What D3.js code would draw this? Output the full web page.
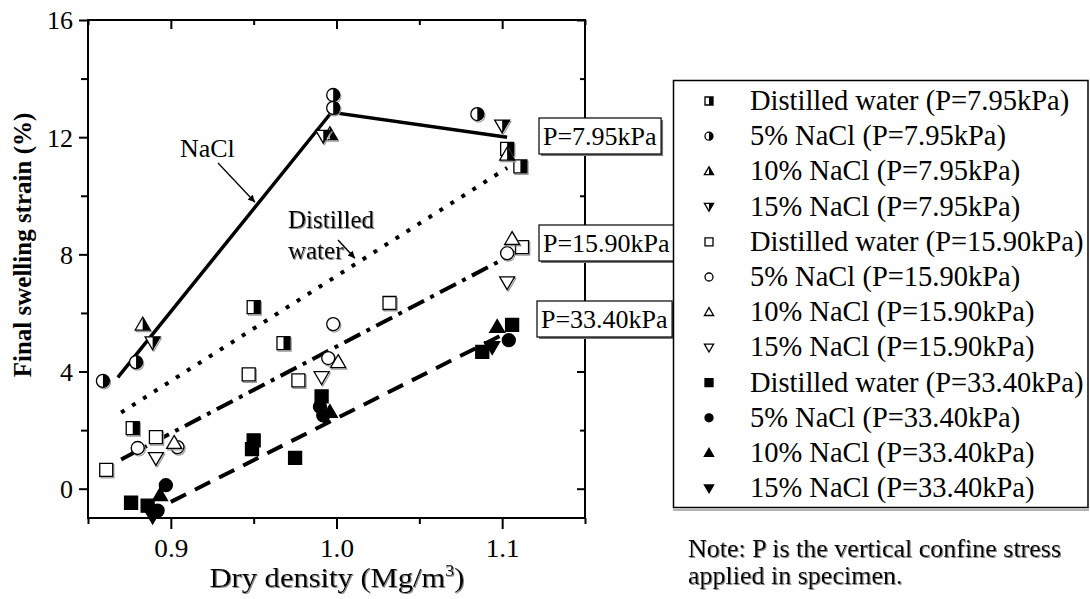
<!DOCTYPE html>
<html><head><meta charset="utf-8">
<script src="https://cdn.jsdelivr.net/npm/d3@7"></script>
<style>
body{margin:0;background:#fff;}
svg{display:block;}
svg text{font-family:"Liberation Serif","Times New Roman",Times,"DejaVu Serif","Noto Serif",serif;fill:#000;}
</style></head>
<body><svg id="c" width="1090" height="599" font-family="Liberation Serif, Times New Roman, DejaVu Serif, serif"></svg>
<script>
// ---------- data ----------
const xMajor = [0.9, 1.0, 1.1];
const xMinor = [0.85, 0.95, 1.05, 1.15];
const yMajor = [0, 4, 8, 12, 16];
const yMinor = [2, 6, 10, 14];

// P = 7.95 kPa (half filled)
const dw795  = [[0.877,2.07],[0.95,6.2],[0.968,4.97],[1.103,11.6],[1.111,11.0]];
const n5_795 = [[0.859,3.68],[0.879,4.32],[0.998,13.44],[0.998,13.0],[1.085,12.79]];
const n10_795= [[0.883,5.6],[0.996,12.1],[1.103,11.4]];
const n15_795= [[0.889,5.0],[0.992,12.05],[1.100,12.4]];
// P = 15.90 kPa (open)
const dw1590  = [[0.861,0.64],[0.891,1.76],[0.947,3.9],[0.977,3.7],[1.032,6.34],[1.112,8.25]];
const n5_1590 = [[0.880,1.39],[0.904,1.42],[0.998,5.62],[0.995,4.46],[1.103,8.04]];
const n10_1590= [[0.902,1.56],[1.001,4.32],[1.106,8.52]];
const n15_1590= [[0.891,1.05],[0.991,3.81],[1.103,7.05]];
// P = 33.40 kPa (filled)
const dw3340  = [[0.876,-0.48],[0.886,-0.58],[0.950,1.65],[0.949,1.35],[0.975,1.05],[0.991,3.15],[1.088,4.67],[1.106,5.59]];
const n5_3340 = [[0.897,0.12],[0.892,-0.75],[0.990,2.8],[0.992,2.5],[1.104,5.07]];
const n10_3340= [[0.8935,-0.22],[0.996,2.62],[1.097,5.52]];
const n15_3340= [[0.889,-0.95],[0.993,2.45],[1.094,4.84]];

// fitted trend lines
const fitNaCl795 = [[0.868,3.8],[0.997,12.85],[1.103,12.0]];
const fitDW795   = [[0.870,2.6],[1.103,10.95]];
const fit1590    = [[0.870,1.0],[1.113,8.2]];
const fit3340    = [[0.900,-0.45],[1.100,5.25]];

const legendLabels = [
 "Distilled water (P=7.95kPa)","5% NaCl (P=7.95kPa)","10% NaCl (P=7.95kPa)","15% NaCl (P=7.95kPa)",
 "Distilled water (P=15.90kPa)","5% NaCl (P=15.90kPa)","10% NaCl (P=15.90kPa)","15% NaCl (P=15.90kPa)",
 "Distilled water (P=33.40kPa)","5% NaCl (P=33.40kPa)","10% NaCl (P=33.40kPa)","15% NaCl (P=33.40kPa)"];
const pLabels = ["P=7.95kPa","P=15.90kPa","P=33.40kPa"];

// ---------- layout ----------
const FONT = "'Liberation Serif','Times New Roman',Times,'DejaVu Serif',serif";
const svg = d3.select("#c");
const L=88, R=585, T=20, B=518;
const x = d3.scaleLinear().domain([0.85,1.15]).range([L,R]);
const y = d3.scaleLinear().domain([-1,16]).range([B,T]);

const defs = svg.append("defs");
const flt = defs.append("filter").attr("id","shd").attr("x","-5%").attr("y","-20%").attr("width","110%").attr("height","140%");
flt.append("feOffset").attr("in","SourceAlpha").attr("dx",1).attr("dy",1).attr("result","o");
flt.append("feColorMatrix").attr("in","o").attr("type","matrix")
  .attr("values","0 0 0 0 0.25  0 0 0 0 0.25  0 0 0 0 0.25  0 0 0 1 0").attr("result","c");
const fm = flt.append("feMerge"); fm.append("feMergeNode").attr("in","c"); fm.append("feMergeNode").attr("in","SourceGraphic");

function T_(sel, size){ return sel.style("font-family",FONT).style("font-size",size+"px"); }

// ---------- marker shapes ----------
function shapePath(kind, r){
  const t = r*1.15;
  switch(kind){
    case "sq": return `M${-r},${-r}h${2*r}v${2*r}h${-2*r}Z`;
    case "sqH": return `M0,${-r}h${r}v${2*r}h${-r}Z`;
    case "ci": return `M${-r},0A${r},${r} 0 1 1 ${r},0A${r},${r} 0 1 1 ${-r},0Z`;
    case "ciH": return `M0,${-r}A${r},${r} 0 0 1 0,${r}Z`;
    case "tu": return `M0,${-t}L${t},${t*0.72}L${-t},${t*0.72}Z`;
    case "tuH": return `M0,${-t}L${t},${t*0.72}L0,${t*0.72}Z`;
    case "td": return `M0,${t}L${t},${-t*0.72}L${-t},${-t*0.72}Z`;
    case "tdH": return `M0,${t}L${t},${-t*0.72}L0,${-t*0.72}Z`;
  }
}
const series = [
  {d:dw795, s:"sq", st:"half"},{d:n5_795, s:"ci", st:"half"},{d:n10_795, s:"tu", st:"half"},{d:n15_795, s:"td", st:"half"},
  {d:dw1590, s:"sq", st:"open"},{d:n5_1590, s:"ci", st:"open"},{d:n10_1590, s:"tu", st:"open"},{d:n15_1590, s:"td", st:"open"},
  {d:dw3340, s:"sq", st:"full"},{d:n5_3340, s:"ci", st:"full"},{d:n10_3340, s:"tu", st:"full"},{d:n15_3340, s:"td", st:"full"}
];
function drawMarker(g, kind, st, r, shadow){
  if(shadow){
    g.append("path").attr("d",shapePath(kind,r)).attr("transform","translate(1.2,1.5)")
      .attr("fill","none").attr("stroke","#999").attr("stroke-width",1.2);
  }
  g.append("path").attr("d",shapePath(kind,r))
    .attr("fill", st==="full" ? "#000" : "#fff")
    .attr("stroke","#000").attr("stroke-width",1.3);
  if(st==="half"){
    g.append("path").attr("d",shapePath(kind+"H",r)).attr("fill","#000");
  }
}

// ---------- axes ----------
const axW = 2;
function styleAxis(g){
  g.attr("font-family",null).attr("font-size",null);
  g.select(".domain").remove();
  g.selectAll("line").attr("stroke","#000").attr("stroke-width",axW);
  T_(g.selectAll("text"),26);
}
svg.append("g").attr("transform",`translate(0,${B})`)
  .call(d3.axisBottom(x).tickValues(xMajor).tickSize(11).tickFormat(d3.format(".1f")))
  .call(styleAxis).call(g=>g.selectAll("text").attr("y",39).attr("dy",null).attr("textLength",34).attr("lengthAdjust","spacingAndGlyphs"));
svg.append("g").attr("transform",`translate(0,${B})`)
  .call(d3.axisBottom(x).tickValues(xMinor).tickSize(6).tickFormat("")).call(styleAxis);
svg.append("g").attr("transform",`translate(0,${T})`)
  .call(d3.axisBottom(x).tickValues(xMajor).tickSize(9).tickFormat("")).call(styleAxis);
svg.append("g").attr("transform",`translate(0,${T})`)
  .call(d3.axisBottom(x).tickValues(xMinor).tickSize(5).tickFormat("")).call(styleAxis);
svg.append("g").attr("transform",`translate(${L},0)`)
  .call(d3.axisLeft(y).tickValues(yMajor).tickSize(9).tickPadding(6).tickFormat(d3.format("d")))
  .call(styleAxis).call(g=>g.selectAll("text").attr("dy","0.34em"));
svg.append("g").attr("transform",`translate(${L},0)`)
  .call(d3.axisLeft(y).tickValues(yMinor).tickSize(7).tickFormat("")).call(styleAxis);
svg.append("g").attr("transform",`translate(${R},0)`)
  .call(d3.axisLeft(y).tickValues(yMajor).tickSize(8).tickFormat("")).call(styleAxis);
svg.append("g").attr("transform",`translate(${R},0)`)
  .call(d3.axisLeft(y).tickValues(yMinor).tickSize(5).tickFormat("")).call(styleAxis);
svg.append("rect").attr("x",L).attr("y",T).attr("width",R-L).attr("height",B-T)
  .attr("fill","none").attr("stroke","#000").attr("stroke-width",axW);

// ---------- fit lines ----------
const line = d3.line().x(d=>x(d[0])).y(d=>y(d[1]));
const plot = svg.append("g");
plot.append("path").datum(fitNaCl795).attr("d",line).attr("fill","none").attr("stroke","#000").attr("stroke-width",3.5);
plot.append("path").datum(fitDW795).attr("d",line).attr("fill","none").attr("stroke","#000").attr("stroke-width",4).attr("stroke-dasharray","4 9");
plot.append("path").datum(fit1590).attr("d",line).attr("fill","none").attr("stroke","#000").attr("stroke-width",4).attr("stroke-dasharray","18 7 4 7");
plot.append("path").datum(fit3340).attr("d",line).attr("fill","none").attr("stroke","#000").attr("stroke-width",4).attr("stroke-dasharray","17 10");

// ---------- markers ----------
series.forEach(se=>{
  se.d.forEach(p=>{
    const g = plot.append("g").attr("transform",`translate(${x(p[0])},${y(p[1])})`);
    drawMarker(g, se.s, se.st, 6.5, se.st!=="full");
  });
});

// ---------- annotations ----------
defs.append("marker").attr("id","ah").attr("viewBox","0 0 10 10")
  .attr("refX",10).attr("refY",5).attr("markerWidth",9).attr("markerHeight",7)
  .attr("markerUnits","userSpaceOnUse").attr("orient","auto")
  .append("path").attr("d","M0,0L10,5L0,10Z").attr("fill","#000");

T_(svg.append("text").attr("x",x(0.9055)).attr("y",y(11.32)),26).text("NaCl");
svg.append("line").attr("x1",x(0.9285)).attr("y1",y(11.12)).attr("x2",x(0.9508)).attr("y2",y(9.78))
  .attr("stroke","#000").attr("stroke-width",1.3).attr("marker-end","url(#ah)");
T_(svg.append("text").attr("x",x(0.9707)).attr("y",y(8.9)).attr("filter","url(#shd)"),25).text("Distilled");
T_(svg.append("text").attr("x",x(0.9707)).attr("y",y(7.84)).attr("filter","url(#shd)"),25).text("water");
svg.append("line").attr("x1",x(1.0009)).attr("y1",y(8.49)).attr("x2",x(1.0111)).attr("y2",y(7.87))
  .attr("stroke","#000").attr("stroke-width",1.5).attr("marker-end","url(#ah)");

// P label boxes
const pPos = [[543,145],[543,252],[541,328]];
pLabels.forEach((t,i)=>{
  const g = svg.append("g");
  const tx = T_(g.append("text").attr("x",pPos[i][0]).attr("y",pPos[i][1]),26).text(t);
  const bb = tx.node().getBBox();
  const bx = bb.x-4, by = pPos[i][1]-27, bw = bb.width+8, bh = 36;
  g.insert("rect","text").attr("x",bx+2).attr("y",by+2).attr("width",bw).attr("height",bh).attr("fill","#777");
  g.insert("rect","text").attr("x",bx).attr("y",by).attr("width",bw).attr("height",bh)
    .attr("fill","#fff").attr("stroke","#000").attr("stroke-width",1.2);
});

// axis titles
T_(svg.append("text").attr("transform","translate(31,245) rotate(-90)").attr("text-anchor","middle"),25)
  .style("font-weight","bold").text("Final swelling strain (%)");
{
  const t = T_(svg.append("text").attr("x",337).attr("y",587).attr("text-anchor","middle")
    .attr("textLength",255).attr("lengthAdjust","spacingAndGlyphs").attr("filter","url(#shd)"),27);
  t.append("tspan").text("Dry density (Mg/m");
  t.append("tspan").attr("dy",-11).style("font-size","16px").text("3");
  t.append("tspan").attr("dy",11).text(")");
}

// ---------- legend ----------
const lg = svg.append("g");
lg.append("rect").attr("x",673.5).attr("y",80.5).attr("width",414.5).attr("height",427)
  .attr("fill","#fff").attr("stroke","#000").attr("stroke-width",1.5);
lg.append("line").attr("x1",673).attr("x2",1089).attr("y1",510).attr("y2",510).attr("stroke","#666").attr("stroke-width",1);
legendLabels.forEach((lab,i)=>{
  const by = 110 + i*35.2;
  const se = series[i];
  const g = lg.append("g").attr("transform",`translate(709,${by-9})`);
  drawMarker(g, se.s, se.st, 4, false);
  T_(lg.append("text").attr("x",750).attr("y",by),28.5).text(lab);
});

// note
T_(svg.append("text").attr("x",688).attr("y",557).attr("filter","url(#shd)"),26).text("Note: P is the vertical confine stress");
T_(svg.append("text").attr("x",688).attr("y",584).attr("filter","url(#shd)"),26).text("applied in specimen.");
</script></body></html>
